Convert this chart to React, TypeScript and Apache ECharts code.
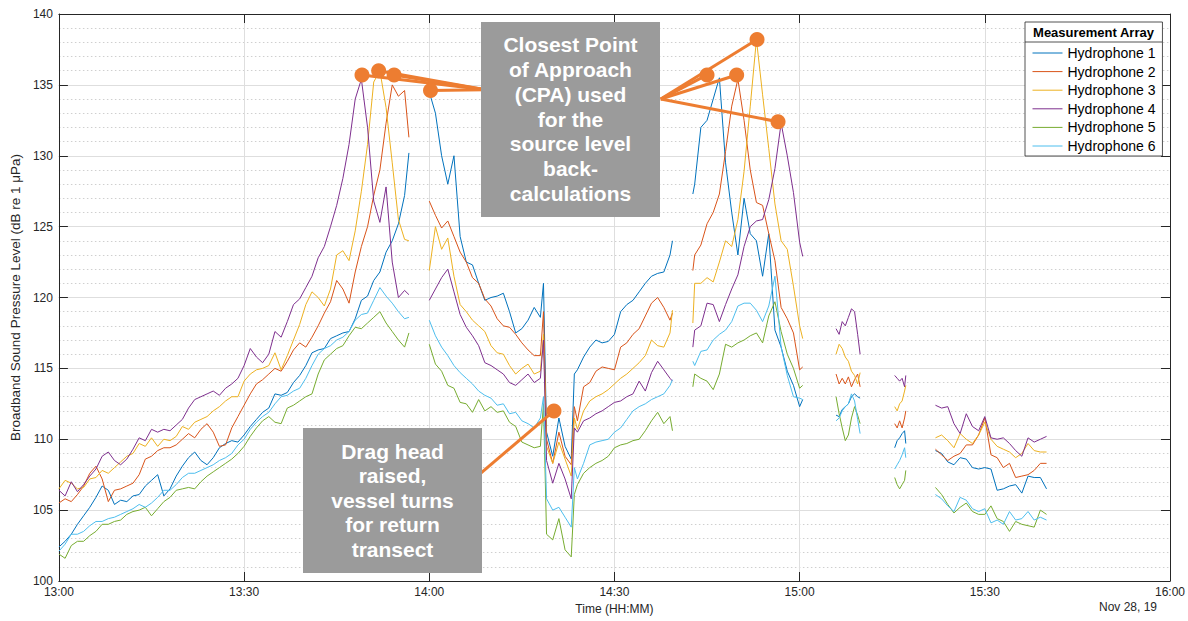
import React, { useEffect, useRef } from "react";
import * as echarts from "echarts";

const FONT = '"Liberation Sans", Arial, Helvetica, sans-serif';

const SERIES_NAMES = ["Hydrophone 1", "Hydrophone 2", "Hydrophone 3", "Hydrophone 4", "Hydrophone 5", "Hydrophone 6"];
const SERIES_COLORS = ["#0072BD", "#D95319", "#EDB120", "#7E2F8E", "#77AC30", "#4DBEEE"];

// minutes after 13:00
const TIME_A = [0, 1, 2, 3, 4, 5, 6, 7, 8, 9, 10, 11, 12, 13, 14, 15, 16, 17, 18, 19, 20, 21, 22, 23, 24, 25, 26, 27, 28, 29, 30, 31, 32, 33, 34, 35, 36, 37, 38, 39, 40, 41, 42, 43, 44, 45, 46, 47, 48, 49, 50, 51, 52, 53, 54, 55, 56, 56.7];
const TIME_B = [60, 61, 62, 63, 64, 65, 66, 67, 68, 69, 70, 71, 72, 73, 74, 75, 76, 77, 78, 78.5, 79, 80, 81, 82, 83, 83.5, 84, 85, 86, 87, 88, 89, 90, 91, 92, 93, 94, 95, 96, 97, 98, 99, 99.4];
const TIME_C = [102.7, 103, 104, 105, 106, 107, 108, 109, 110, 111, 112, 113, 114, 115, 116, 117, 118, 119, 120, 120.5];
const TIME_D = [125.9, 126.4, 126.9, 127.4, 127.9, 128.4, 128.9, 129.4, 129.8];
const TIME_E = [135.4, 135.8, 136.2, 136.6, 137.0, 137.2];
const TIME_F = [142, 143, 144, 145, 146, 147, 148, 149, 150, 151, 152, 153, 154, 155, 156, 157, 158, 159, 160];

// Hydrophone 1
const H1_A = [102.4, 102.8, 103.3, 104.0, 104.6, 105.2, 105.9, 106.7, 106.4, 105.4, 105.7, 105.6, 106.0, 106.1, 106.7, 107.1, 107.5, 106.0, 106.5, 107.4, 108.1, 108.7, 109.1, 108.5, 108.2, 108.7, 109.4, 109.7, 109.9, 109.8, 110.3, 110.9, 111.4, 111.9, 112.2, 113.2, 113.1, 113.3, 114.0, 114.5, 115.2, 116.1, 116.3, 116.4, 117.1, 117.3, 117.5, 117.6, 118.5, 119.8, 120.1, 121.2, 121.8, 123.2, 124.0, 125.2, 127.2, 130.2];
const H1_B = [134.5, 133.0, 130.0, 128.0, 130.0, 124.3, 122.5, 122.3, 121.0, 119.8, 120.0, 120.1, 120.3, 119.0, 117.5, 117.8, 118.4, 119.3, 118.6, 121.0, 110.5, 108.8, 111.5, 109.5, 108.6, 114.6, 114.9, 115.8, 116.5, 117.0, 116.8, 116.9, 117.4, 119.0, 119.5, 119.8, 120.4, 121.0, 121.5, 121.7, 121.8, 123.0, 124.0];
const H1_C = [127.3, 128.0, 132.0, 132.5, 134.0, 135.5, 129.5, 126.0, 123.0, 127.0, 124.5, 124.0, 121.5, 124.5, 117.7, 116.5, 114.8, 113.8, 112.3, 112.8];
const H1_D = [111.7, 111.6, 112.1, 112.3, 112.5, 113.0, 113.2, 113.0, 112.9];
const H1_E = [109.4, 109.9, 110.1, 110.4, 110.6, 109.7];
const H1_F = [109.2, 109.0, 108.4, 108.2, 108.7, 108.6, 108.0, 107.9, 108.0, 107.9, 106.4, 106.5, 106.7, 106.8, 106.2, 107.4, 107.3, 107.3, 106.5];

// Hydrophone 2
const H2_A = [105.5, 105.8, 105.6, 106.1, 106.7, 107.6, 108.1, 107.2, 105.6, 106.4, 106.5, 106.7, 106.9, 107.5, 108.6, 108.8, 109.2, 109.4, 109.4, 109.6, 110.0, 110.4, 110.1, 110.7, 111.1, 110.5, 109.5, 109.6, 110.8, 111.6, 112.4, 113.2, 113.9, 114.2, 114.6, 115.0, 114.8, 115.5, 116.3, 116.8, 116.5, 117.2, 118.0, 118.9, 119.7, 121.2, 120.6, 119.6, 121.8, 123.6, 125.0, 127.2, 129.0, 132.3, 135.0, 134.2, 134.6, 131.3];
const H2_B = [126.8, 125.8, 124.9, 125.4, 124.3, 123.2, 122.5, 121.4, 121.0, 119.9, 119.4, 118.5, 118.0, 117.9, 117.4, 116.8, 116.3, 115.9, 115.9, 119.0, 110.0, 108.3, 110.5, 108.8, 108.2, 112.3, 111.3, 113.7, 114.0, 114.8, 115.1, 115.0, 114.9, 116.5, 116.8, 117.4, 117.8, 118.7, 119.6, 120.0, 119.3, 118.4, 118.9];
const H2_C = [121.9, 123.0, 123.7, 125.2, 126.0, 127.3, 130.3, 133.5, 135.4, 132.5, 129.0, 126.7, 126.5, 124.5, 122.6, 119.3, 118.5, 117.5, 114.9, 115.1];
const H2_D = [114.6, 113.9, 114.3, 113.9, 114.4, 113.7, 114.2, 114.6, 113.7];
const H2_E = [111.1, 110.8, 111.3, 110.8, 111.5, 112.0];
const H2_F = [109.3, 108.9, 108.5, 108.8, 109.0, 109.6, 109.6, 110.3, 111.5, 108.9, 108.7, 108.0, 108.3, 107.3, 107.4, 107.5, 107.8, 108.3, 108.3];

// Hydrophone 3
const H3_A = [106.5, 107.1, 106.9, 106.5, 106.6, 107.2, 107.3, 107.8, 107.6, 108.0, 108.4, 108.8, 109.0, 109.7, 109.5, 110.1, 109.5, 110.0, 109.9, 110.2, 110.9, 110.7, 111.2, 111.4, 111.6, 112.0, 112.3, 112.7, 113.0, 113.0, 114.1, 114.6, 114.9, 115.0, 115.2, 116.1, 114.9, 115.9, 117.0, 118.1, 119.5, 120.4, 120.0, 119.4, 120.6, 123.0, 123.3, 122.6, 124.7, 127.5, 130.8, 135.2, 136.0, 133.4, 129.5, 125.5, 124.1, 124.0];
const H3_B = [121.9, 125.0, 123.4, 124.2, 121.5, 119.5, 119.0, 118.4, 118.0, 117.6, 116.6, 116.1, 116.0, 115.2, 114.6, 115.0, 115.3, 114.6, 114.8, 117.4, 109.5, 108.3, 109.8, 108.6, 107.4, 111.5, 110.7, 112.0, 112.7, 113.0, 113.2, 113.5, 113.9, 114.3, 114.6, 115.0, 115.4, 115.9, 117.0, 116.6, 116.5, 117.5, 119.1];
const H3_C = [118.2, 121.0, 121.0, 121.4, 121.1, 122.5, 124.0, 123.6, 125.5, 128.9, 133.5, 138.2, 134.3, 130.5, 126.6, 124.0, 123.4, 120.8, 118.0, 117.1];
const H3_D = [116.0, 116.7, 116.4, 115.8, 115.5, 114.8, 114.5, 113.9, 114.7];
const H3_E = [112.3, 112.0, 112.5, 112.7, 113.4, 113.8];
const H3_F = [110.1, 110.3, 109.9, 109.4, 110.4, 110.0, 109.7, 110.3, 111.2, 110.0, 109.5, 109.3, 109.1, 108.7, 109.0, 109.7, 109.2, 109.1, 109.1];

// Hydrophone 4
const H4_A = [106.4, 106.0, 107.0, 106.3, 106.8, 107.4, 107.9, 108.8, 109.1, 108.5, 108.2, 108.6, 109.3, 110.1, 109.9, 110.7, 110.5, 110.7, 110.6, 111.0, 111.4, 112.2, 112.8, 113.0, 113.2, 113.4, 113.1, 113.6, 113.9, 114.3, 115.2, 116.4, 115.8, 115.4, 116.0, 117.6, 117.2, 118.3, 119.5, 119.9, 120.7, 121.5, 122.8, 123.6, 125.0, 126.5, 128.4, 130.8, 134.0, 135.4, 132.0, 126.8, 125.3, 127.8, 122.5, 120.0, 120.5, 120.2];
const H4_B = [119.8, 120.6, 121.4, 122.0, 120.4, 118.8, 117.9, 117.3, 116.6, 115.4, 115.2, 114.9, 114.6, 114.0, 113.8, 114.2, 114.6, 114.0, 114.3, 117.0, 108.5, 106.9, 108.3, 107.2, 105.8, 110.8, 110.5, 111.3, 111.5, 111.8, 112.0, 112.3, 112.6, 112.7, 113.0, 113.2, 114.1, 113.4, 114.7, 115.5, 114.9, 114.3, 114.1];
const H4_C = [116.5, 117.7, 118.0, 119.6, 119.5, 118.3, 119.5, 120.6, 121.6, 123.6, 125.0, 125.4, 125.5, 126.9, 129.1, 132.3, 130.0, 127.4, 123.9, 122.9];
const H4_D = [117.8, 117.4, 118.3, 118.0, 118.6, 119.2, 119.0, 117.4, 116.0];
const H4_E = [114.5, 114.3, 114.1, 114.3, 113.7, 114.5];
const H4_F = [112.4, 112.2, 112.3, 111.1, 110.4, 111.8, 110.9, 110.6, 111.6, 110.1, 110.0, 110.1, 109.7, 109.2, 108.8, 110.1, 109.8, 110.0, 110.2];

// Hydrophone 5
const H5_A = [101.9, 101.6, 102.5, 102.8, 102.8, 103.2, 103.5, 104.0, 104.0, 104.2, 104.3, 104.7, 104.9, 105.0, 105.2, 104.6, 105.1, 105.6, 105.9, 106.4, 106.5, 106.6, 106.5, 107.0, 107.4, 107.7, 108.0, 108.3, 108.6, 109.0, 109.5, 110.2, 110.8, 111.3, 111.6, 111.2, 111.1, 112.2, 112.4, 112.7, 113.0, 113.2, 114.6, 115.6, 116.0, 116.4, 116.6, 117.3, 117.9, 117.8, 118.2, 118.6, 119.0, 118.2, 117.6, 117.0, 116.5, 117.5];
const H5_B = [116.7, 115.3, 114.8, 113.8, 113.6, 112.6, 112.5, 111.9, 112.8, 112.0, 112.3, 111.9, 112.0, 111.2, 110.9, 109.8, 109.6, 109.4, 109.5, 112.5, 103.3, 102.9, 104.4, 102.2, 101.7, 106.1, 106.8, 107.6, 108.0, 108.3, 108.5, 108.8, 109.4, 109.6, 109.7, 109.9, 110.0, 110.6, 111.3, 111.9, 111.1, 111.6, 110.6];
const H5_C = [113.7, 114.6, 114.3, 114.1, 113.5, 114.6, 116.7, 116.5, 116.8, 117.0, 117.3, 117.5, 116.8, 118.7, 119.7, 117.6, 116.0, 115.0, 113.6, 113.8];
const H5_D = [113.0, 111.8, 110.8, 109.9, 110.3, 111.5, 112.3, 111.7, 111.1];
const H5_E = [107.3, 106.8, 106.5, 106.8, 107.1, 107.8];
const H5_F = [106.6, 106.1, 105.4, 104.8, 105.2, 105.5, 104.9, 104.7, 104.7, 105.3, 104.4, 104.2, 103.5, 104.2, 104.0, 103.9, 103.8, 105.0, 104.7];

// Hydrophone 6
const H6_A = [102.1, 102.6, 103.3, 103.3, 103.5, 103.9, 104.2, 104.2, 104.4, 104.5, 104.7, 104.9, 105.1, 105.4, 105.2, 105.5, 105.9, 106.4, 106.4, 106.8, 107.3, 107.6, 107.6, 107.8, 108.0, 108.2, 108.5, 108.7, 109.0, 109.6, 110.0, 110.7, 111.2, 111.6, 111.9, 112.5, 113.0, 113.1, 113.4, 113.6, 114.3, 115.2, 116.0, 116.4, 116.6, 117.0, 117.2, 117.6, 118.4, 118.8, 118.9, 119.8, 120.7, 120.1, 119.6, 119.0, 118.5, 118.6];
const H6_B = [118.4, 117.3, 116.5, 115.9, 115.2, 114.7, 114.3, 113.9, 113.4, 113.1, 112.9, 112.4, 112.5, 111.8, 111.9, 111.3, 111.1, 110.8, 111.5, 113.0, 105.8, 105.0, 105.2, 104.5, 103.8, 108.0, 107.2, 108.3, 109.6, 109.8, 109.9, 110.0, 110.5, 110.8, 111.4, 112.0, 112.3, 112.5, 112.8, 113.0, 113.2, 113.8, 114.2];
const H6_C = [115.5, 115.2, 116.2, 116.3, 117.0, 117.4, 117.7, 118.3, 119.4, 119.6, 119.6, 119.1, 118.3, 119.4, 121.5, 116.5, 114.5, 113.0, 112.9, 112.8];
const H6_D = [111.3, 111.5, 112.0, 112.3, 112.5, 113.2, 112.7, 111.4, 110.4];
const H6_E = [107.9, 108.2, 108.5, 108.9, 109.4, 108.7];
const H6_F = [106.1, 105.8, 105.3, 104.9, 105.9, 105.7, 105.1, 104.9, 105.1, 104.1, 104.3, 104.0, 104.9, 104.3, 104.4, 104.9, 104.3, 104.5, 104.3];

// Annotation points [minutes after 13:00, dB]
const CPA_POINTS = [[49.1, 135.7], [51.8, 136.0], [54.3, 135.7], [60.2, 134.6], [105.0, 135.7], [109.8, 135.7], [113.1, 138.2], [116.5, 132.4]];
const CPA_LEFT_ANCHOR = [69.1, 134.65];
const CPA_RIGHT_ANCHOR = [97.5, 134.0];
const DRAG_POINT = [80.2, 112.0];
const DRAG_ANCHOR = [67.5, 107.3];

const SEGMENT_TIMES = [TIME_A, TIME_B, TIME_C, TIME_D, TIME_E, TIME_F];
const HYDROPHONE_SEGMENTS = [
  [H1_A, H1_B, H1_C, H1_D, H1_E, H1_F],
  [H2_A, H2_B, H2_C, H2_D, H2_E, H2_F],
  [H3_A, H3_B, H3_C, H3_D, H3_E, H3_F],
  [H4_A, H4_B, H4_C, H4_D, H4_E, H4_F],
  [H5_A, H5_B, H5_C, H5_D, H5_E, H5_F],
  [H6_A, H6_B, H6_C, H6_D, H6_E, H6_F],
];

function buildData(segments: number[][]) {
  const out: (number | string)[][] = [];
  segments.forEach((vals, s) => {
    const times = SEGMENT_TIMES[s];
    if (s > 0) {
      const prev = SEGMENT_TIMES[s - 1];
      out.push([(prev[prev.length - 1] + times[0]) / 2, "-"]);
    }
    vals.forEach((v, i) => out.push([times[i], v]));
  });
  return out;
}

function fmtTime(v: number) {
  const m = 13 * 60 + Math.round(v);
  const hh = Math.floor(m / 60);
  const mm = m % 60;
  return `${hh}:${mm < 10 ? "0" + mm : mm}`;
}

const ORANGE = "#ED7D31";
const AXIS_COLOR = "#262626";

export default function App() {
  const ref = useRef<HTMLDivElement>(null);
  useEffect(() => {
    if (!ref.current) return;
    const chart = echarts.init(ref.current, undefined, { renderer: "svg" });

    const lineSeries = HYDROPHONE_SEGMENTS.map((segs, i) => ({
      name: SERIES_NAMES[i],
      type: "line",
      data: buildData(segs),
      showSymbol: false,
      symbol: "none",
      connectNulls: false,
      silent: true,
      z: 2,
      lineStyle: { color: SERIES_COLORS[i], width: 1 },
      itemStyle: { color: SERIES_COLORS[i] },
    }));

    const markLines = [
      ...CPA_POINTS.slice(0, 4).map((p) => [{ coord: p }, { coord: CPA_LEFT_ANCHOR }]),
      ...CPA_POINTS.slice(4).map((p) => [{ coord: p }, { coord: CPA_RIGHT_ANCHOR }]),
      [{ coord: DRAG_POINT }, { coord: DRAG_ANCHOR }],
    ];

    const option: any = {
      animation: false,
      backgroundColor: "#ffffff",
      textStyle: { fontFamily: FONT },
      grid: { left: 53, right: 18, top: 14, bottom: 40, containLabel: false },
      xAxis: [
        {
          type: "value",
          min: 0,
          max: 180,
          interval: 30,
          name: "Time (HH:MM)",
          nameLocation: "middle",
          nameGap: 19,
          nameTextStyle: { fontSize: 12, color: AXIS_COLOR, fontFamily: FONT },
          axisLine: { show: true, onZero: false, lineStyle: { color: AXIS_COLOR, width: 1 } },
          axisTick: { show: true, inside: true, length: 9, lineStyle: { color: AXIS_COLOR } },
          axisLabel: { formatter: fmtTime, fontSize: 12, color: AXIS_COLOR, margin: 5, fontFamily: FONT },
          splitLine: { show: true, lineStyle: { color: "#dedede", width: 1 } },
        },
        {
          type: "value",
          position: "top",
          min: 0,
          max: 180,
          interval: 30,
          axisLine: { show: true, onZero: false, lineStyle: { color: AXIS_COLOR, width: 1 } },
          axisTick: { show: true, inside: true, length: 9, lineStyle: { color: AXIS_COLOR } },
          axisLabel: { show: false },
          splitLine: { show: false },
        },
      ],
      yAxis: [
        {
          type: "value",
          min: 100,
          max: 140,
          interval: 5,
          name: "Broadband Sound Pressure Level (dB re 1 μPa)",
          nameLocation: "middle",
          nameGap: 28,
          nameRotate: 90,
          nameTextStyle: { fontSize: 13.5, color: AXIS_COLOR, fontFamily: FONT },
          axisLine: { show: true, onZero: false, lineStyle: { color: AXIS_COLOR, width: 1 } },
          axisTick: { show: true, inside: true, length: 9, lineStyle: { color: AXIS_COLOR } },
          axisLabel: { fontSize: 12, color: AXIS_COLOR, margin: 6, fontFamily: FONT },
          splitLine: { show: true, lineStyle: { color: "#dedede", width: 1 } },
          minorTick: { show: false, splitNumber: 5 },
          minorSplitLine: { show: true, lineStyle: { color: "#cfcfcf", width: 1, type: [1.5, 2.5] } },
        },
        {
          type: "value",
          position: "right",
          min: 100,
          max: 140,
          interval: 5,
          axisLine: { show: true, onZero: false, lineStyle: { color: AXIS_COLOR, width: 1 } },
          axisTick: { show: true, inside: true, length: 9, lineStyle: { color: AXIS_COLOR } },
          axisLabel: { show: false },
          splitLine: { show: false },
        },
      ],
      legend: {
        data: SERIES_NAMES,
        orient: "vertical",
        left: 1025,
        top: 22,
        padding: [24, 7, 3, 7],
        itemGap: 4.6,
        itemWidth: 30,
        itemHeight: 14,
        borderColor: AXIS_COLOR,
        borderWidth: 0.8,
        borderRadius: 0,
        backgroundColor: "#ffffff",
        selectedMode: false,
        itemStyle: { color: "rgba(0,0,0,0)", borderWidth: 0, opacity: 0 },
        lineStyle: { width: 1 },
        textStyle: { fontSize: 14, color: "#000", fontFamily: FONT },
      },
      series: [
        ...lineSeries,
        {
          name: "annotations",
          type: "scatter",
          data: [...CPA_POINTS, DRAG_POINT],
          symbol: "circle",
          symbolSize: 15,
          silent: true,
          z: 6,
          itemStyle: { color: ORANGE, opacity: 1 },
          markLine: {
            silent: true,
            symbol: ["none", "none"],
            label: { show: false },
            lineStyle: { color: ORANGE, width: 3, type: "solid" },
            data: markLines,
          },
        },
      ],
      graphic: [
        { type: "rect", z: 50, shape: { x: 481, y: 22, width: 179, height: 195 }, style: { fill: "#9b9b9b" } },
        {
          type: "text",
          z: 51,
          style: {
            text: "Closest Point\nof Approach\n(CPA) used\nfor the\nsource level\nback-\ncalculations",
            x: 570.5,
            y: 119,
            align: "center",
            verticalAlign: "middle",
            textAlign: "center",
            textVerticalAlign: "middle",
            fill: "#ffffff",
            font: `bold 21px ${FONT}`,
            lineHeight: 24.7,
          },
        },
        { type: "rect", z: 50, shape: { x: 303, y: 428, width: 179, height: 145 }, style: { fill: "#9b9b9b" } },
        {
          type: "text",
          z: 51,
          style: {
            text: "Drag head\nraised,\nvessel turns\nfor return\ntransect",
            x: 392.5,
            y: 500,
            align: "center",
            verticalAlign: "middle",
            textAlign: "center",
            textVerticalAlign: "middle",
            fill: "#ffffff",
            font: `bold 21px ${FONT}`,
            lineHeight: 24.5,
          },
        },
        {
          type: "text",
          z: 100,
          style: {
            text: "Measurement Array",
            x: 1093.5,
            y: 32,
            align: "center",
            verticalAlign: "middle",
            textAlign: "center",
            textVerticalAlign: "middle",
            fill: "#000",
            font: `bold 13px ${FONT}`,
          },
        },
        {
          type: "line",
          z: 100,
          shape: { x1: 1025, y1: 42, x2: 1162, y2: 42 },
          style: { stroke: AXIS_COLOR, lineWidth: 0.8 },
        },
        {
          type: "text",
          z: 100,
          style: {
            text: "Nov 28, 19",
            x: 1128,
            y: 607,
            align: "center",
            verticalAlign: "middle",
            textAlign: "center",
            textVerticalAlign: "middle",
            fill: AXIS_COLOR,
            font: `12px ${FONT}`,
          },
        },
      ],
    };

    chart.setOption(option);
    return () => chart.dispose();
  }, []);

  return (
    <div
      ref={ref}
      style={{ position: "absolute", left: 0, top: 0, width: 1188, height: 621, background: "#ffffff" }}
    />
  );
}
